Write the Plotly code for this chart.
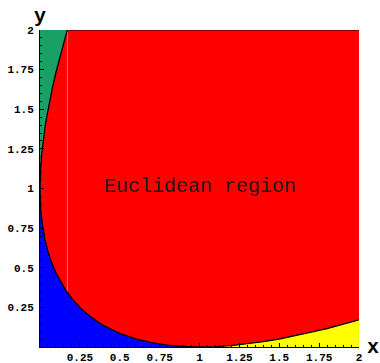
import plotly.graph_objects as go

# Boundary of the blue region (lower-left)
blue_x = [0.0, 0.002, 0.005, 0.01, 0.02, 0.03, 0.05, 0.07, 0.1, 0.13, 0.16, 0.2, 0.25, 0.3, 0.35, 0.4,
          0.5, 0.6, 0.7, 0.8, 0.9, 0.95, 1.0]
blue_y = [1.0, 0.913, 0.864, 0.81, 0.737, 0.684, 0.603, 0.541, 0.468, 0.409, 0.360, 0.306, 0.25, 0.205,
          0.167, 0.135, 0.086, 0.051, 0.027, 0.011, 0.0026, 0.0006, 0.0]

# Boundary of the yellow region (lower-right)
yellow_x = [1.0, 1.05, 1.1, 1.2, 1.3, 1.4, 1.5, 1.6, 1.7, 1.8, 1.9, 2.0]
yellow_y = [0.0, 0.0006, 0.0024, 0.0091, 0.0195, 0.0334, 0.0505, 0.0706, 0.0938, 0.1167, 0.1432, 0.1716]

# Boundary of the green region (upper-left)
green_x = [0.0, 0.002, 0.005, 0.01, 0.02, 0.03, 0.04, 0.06, 0.08, 0.1, 0.12, 0.14, 0.16, 0.1716]
green_y = [1.0, 1.091, 1.146, 1.21, 1.303, 1.376, 1.44, 1.550, 1.646, 1.732, 1.813, 1.888, 1.960, 2.0]

x_ticks = [0.25, 0.5, 0.75, 1, 1.25, 1.5, 1.75, 2]
x_labels = ["0.25", "0.5", "0.75", "1", "1.25", "1.5", "1.75", "2"]
y_ticks = [0.25, 0.5, 0.75, 1, 1.25, 1.5, 1.75, 2]
y_labels = ["0.25", "0.5", "0.75", "1", "1.25", "1.5", "1.75", "2"]

label_text = "Euclidean region"
label_pos = (1.0, 1.01)

RED = "#ff0000"
BLUE = "#0000ff"
YELLOW = "#ffff00"
GREEN = "#19a064"
MONO = "Liberation Mono, Courier New, Courier, monospace"

fig = go.Figure()

# red region: whole square
fig.add_trace(go.Scatter(x=[0, 2, 2, 0, 0], y=[0, 0, 2, 2, 0], fill="toself", fillcolor=RED,
                         line=dict(width=0), mode="lines", hoverinfo="skip"))
# faint seam in red region
fig.add_trace(go.Scatter(x=[green_x[-1], green_x[-1]], y=[0.345, 2], mode="lines",
                         line=dict(color="rgba(255,150,150,0.7)", width=1), hoverinfo="skip"))
# blue
fig.add_trace(go.Scatter(x=blue_x + [0], y=blue_y + [0], fill="toself", fillcolor=BLUE,
                         line=dict(width=0), mode="lines", hoverinfo="skip"))
# yellow
fig.add_trace(go.Scatter(x=yellow_x + [2], y=yellow_y + [0], fill="toself", fillcolor=YELLOW,
                         line=dict(width=0), mode="lines", hoverinfo="skip"))
# green
fig.add_trace(go.Scatter(x=green_x + [0], y=green_y + [2], fill="toself", fillcolor=GREEN,
                         line=dict(width=0), mode="lines", hoverinfo="skip"))

# boundary lines
for bx, by in [(blue_x, blue_y), (yellow_x, yellow_y), (green_x, green_y)]:
    fig.add_trace(go.Scatter(x=bx, y=by, mode="lines", line=dict(color="black", width=1.3),
                             hoverinfo="skip"))
# top edge of red region
fig.add_trace(go.Scatter(x=[green_x[-1], 2], y=[2, 2], mode="lines",
                         line=dict(color="black", width=1.2), hoverinfo="skip"))

fig.add_annotation(x=label_pos[0], y=label_pos[1], text=label_text, showarrow=False,
                   font=dict(family=MONO, size=20, color="#1a1a1a"))
fig.add_annotation(x=0, y=1, xref="paper", yref="paper", text="<b>y</b>", showarrow=False,
                   xanchor="center", yanchor="bottom", yshift=0,
                   font=dict(family=MONO, size=20, color="black"))
fig.add_annotation(x=1, y=0, xref="paper", yref="paper", text="<b>x</b>", showarrow=False,
                   xanchor="left", yanchor="middle", xshift=6, yshift=0,
                   font=dict(family=MONO, size=20, color="black"))

tickfont = dict(family=MONO, size=11, color="black", weight="bold")
fig.update_xaxes(range=[0, 2], showgrid=False, zeroline=False, showline=True, linecolor="black",
                 linewidth=1, ticks="inside", ticklen=4, tickcolor="black", tickvals=x_ticks,
                 ticktext=x_labels, tickfont=tickfont, ticklabelstandoff=0, automargin=False,
                 minor=dict(ticks="inside", ticklen=2, dtick=0.05, tick0=0, tickcolor="black",
                            showgrid=False))
fig.update_yaxes(range=[0, 2], showgrid=False, zeroline=False, showline=True, linecolor="black",
                 linewidth=1, ticks="inside", ticklen=4, tickcolor="black", tickvals=y_ticks,
                 ticktext=y_labels, tickfont=tickfont, ticklabelstandoff=3, automargin=False,
                 minor=dict(ticks="inside", ticklen=2, dtick=0.05, tick0=0, tickcolor="black",
                            showgrid=False))

fig.update_layout(width=380, height=363, margin=dict(l=40, r=21, t=30, b=16),
                  paper_bgcolor="white", plot_bgcolor="white", showlegend=False)

fig.write_html("out.html")
